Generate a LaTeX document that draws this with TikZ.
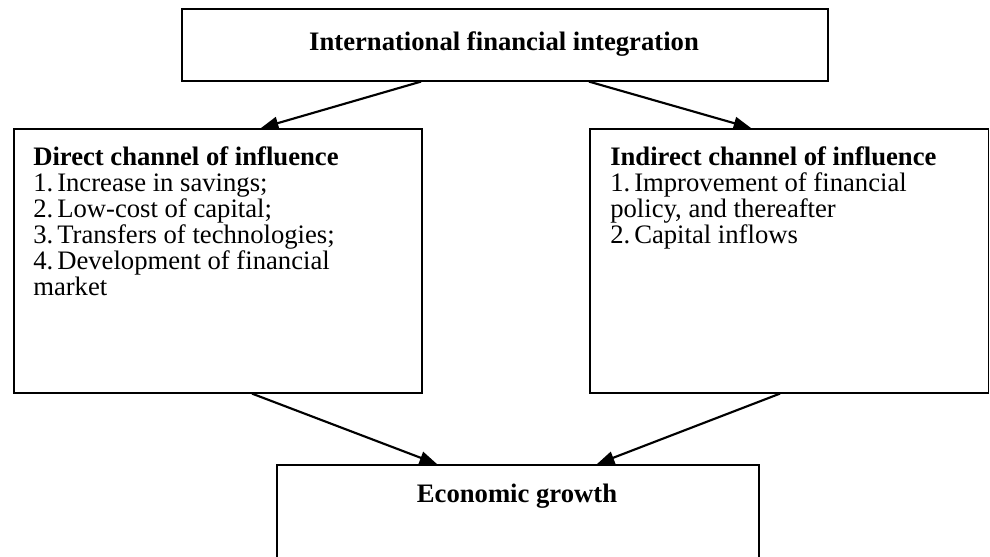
\documentclass[tikz,border=0pt]{standalone}
\usepackage{fontspec}
\setmainfont{Liberation Serif}
\usetikzlibrary{arrows.meta,calc}
\newcommand\numbox[1]{\makebox[18pt][l]{#1}}
\begin{document}
\begin{tikzpicture}[x=0.75pt,y=-0.75pt,
  box/.style={draw=black,line width=1.2pt,rectangle,anchor=north west,inner sep=0pt},
  txt/.style={anchor=base west,inner sep=0pt,font=\fontsize{20}{24}\selectfont},
  ttl/.style={anchor=base west,inner sep=0pt,font=\fontsize{20}{24}\selectfont\bfseries},
  arr/.style={line width=1.6pt,-{Triangle[length=13pt,width=9.5pt]}}]
\clip (0,0) rectangle (990,557);
% boxes
\node[box,minimum width=484.5pt,minimum height=54pt] (top) at (181,8) {};
\node[box,minimum width=306pt,minimum height=198pt] (left) at (13,128) {};
\node[box,minimum width=299pt,minimum height=198pt] (right) at (589,128) {};
\node[box,minimum width=361.5pt,minimum height=100pt] (bottom) at (276,464) {};
% titles
\node[ttl,anchor=base] (ttop) at (504,50) {International financial integration};
\node[ttl,anchor=base] (tbottom) at (517,502) {Economic growth};
% left text
\node[ttl] (l0) at (33,165) {Direct channel of influence};
\node[txt] (l1) at (33,191) {\numbox{1.}Increase in savings;};
\node[txt] (l2) at (33,217) {\numbox{2.}Low-cost of capital;};
\node[txt] (l3) at (33,243) {\numbox{3.}Transfers of technologies;};
\node[txt] (l4) at (33,269) {\numbox{4.}Development of financial};
\node[txt] (l5) at (33,295) {market};
% right text
\node[ttl] (r0) at (610,165) {Indirect channel of influence};
\node[txt] (r1) at (610,191) {\numbox{1.}Improvement of financial};
\node[txt] (r2) at (610,217) {policy, and thereafter};
\node[txt] (r3) at (610,243) {\numbox{2.}Capital inflows};
% arrows
\draw[arr] ($(top.south west)+(240,0)$) -- ($(left.north west)+(248,0)$);
\draw[arr] ($(top.south west)+(408,0)$) -- ($(right.north west)+(162,0)$);
\draw[arr] ($(left.south west)+(239,0)$) -- ($(bottom.north west)+(161,0)$);
\draw[arr] ($(right.south west)+(191,0)$) -- ($(bottom.north west)+(321,0)$);
\end{tikzpicture}
\end{document}
